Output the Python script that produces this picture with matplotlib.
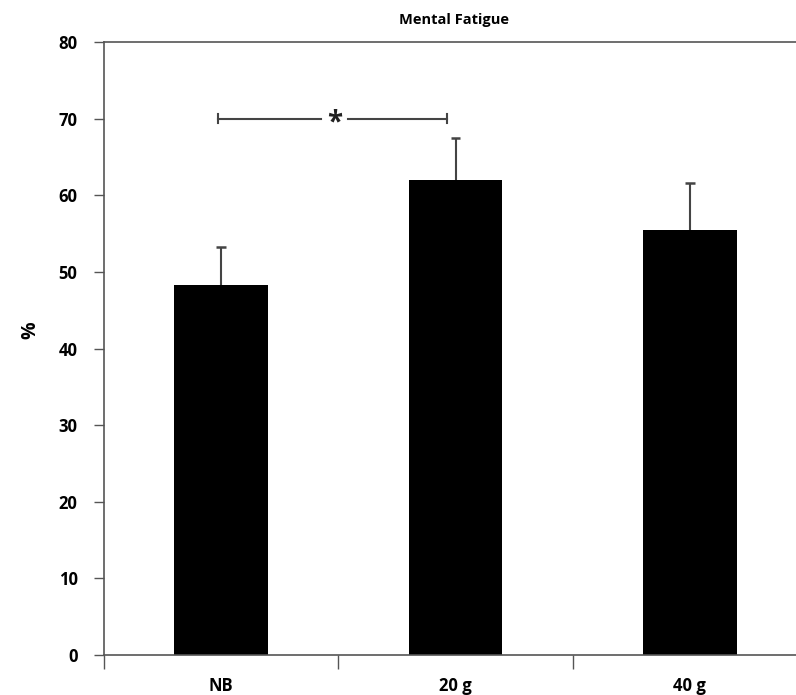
import numpy as np
import matplotlib.pyplot as plt

# data
groups = ['NB', '20 g', '40 g']
means = [48.3, 62.0, 55.5]
errors = [5.0, 5.5, 6.1]
sig_pair = (0, 1)
sig_level = 70

plt.rcParams['font.family'] = ['Open Sans', 'DejaVu Sans']
plt.rcParams['font.weight'] = 'bold'

fig = plt.figure(figsize=(7.96, 6.95), dpi=100)
ax = fig.add_axes([104 / 796, 1 - 655 / 695, (807 - 104) / 796, (655 - 42) / 695])

x = np.arange(len(groups))
ax.bar(x, means, width=0.4, color='black', zorder=2)
# upward error bars only, no cap at the bar top
tops = np.array(means) + np.array(errors)
ax.vlines(x, means, tops, color='#444444', lw=1.5, zorder=1)
ax.hlines(tops, x - 0.021, x + 0.021, color='#444444', lw=1.8, zorder=1)

# significance bracket
x0, x1 = sig_pair[0] - 0.015, sig_pair[1] - 0.035
xm = (x0 + x1) / 2
bc = '#444444'
ax.plot([x0, xm - 0.05], [sig_level, sig_level], color=bc, lw=1.5)
ax.plot([xm + 0.065, x1], [sig_level, sig_level], color=bc, lw=1.5)
for xe in (x0, x1):
    ax.plot([xe, xe], [sig_level - 0.6, sig_level + 0.6], color=bc, lw=1.5)
ax.text(xm + 0.008, sig_level - 0.6, '*', ha='center', va='center', fontsize=20,
        fontweight='bold', color='#222222')

ax.set_xlim(-0.5, 2.5)
ax.set_ylim(0, 80)
ax.set_yticks(np.arange(0, 81, 10))
ax.set_xticks([-0.5, 0.5, 1.5])
ax.set_xticklabels([])
ax.tick_params(axis='x', length=10, width=1, color='#555555', direction='out')
ax.tick_params(axis='y', length=7, width=1, color='#555555', direction='out',
               labelsize=12, pad=12)
for lbl in ax.get_yticklabels():
    lbl.set_fontweight('bold')

for xi, g in zip(x, groups):
    ax.annotate(g, xy=(xi, 0), xycoords='data', xytext=(0, -31), textcoords='offset pixels',
                ha='center', va='center', fontsize=12, fontweight='bold')

for s in ax.spines.values():
    s.set_color('#555555')
    s.set_linewidth(1.2)

fig.text(30 / 796, 1 - 330 / 695, '%', rotation=90, ha='center', va='center',
         fontsize=14, fontweight='bold')
fig.text(454 / 796, 1 - 20 / 695, 'Mental Fatigue', ha='center', va='center',
         fontsize=10.5, fontweight='bold')

fig.savefig('out.png', dpi=100)
